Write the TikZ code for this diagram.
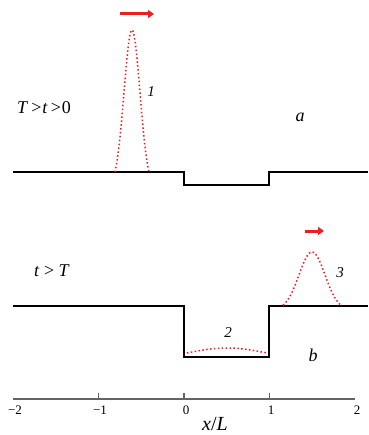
\documentclass[tikz,border=0pt]{standalone}
\usepackage{fontspec}
\setmainfont{Liberation Serif}
\usetikzlibrary{arrows.meta}
\definecolor{pulsered}{RGB}{235,30,35}
\definecolor{axisgray}{RGB}{100,100,100}
\tikzset{
  profile/.style={line width=2.6pt, line join=miter},
  pulse/.style={pulsered, line width=1.5pt, dash pattern=on 1.5pt off 2.4pt},
  motion/.style={pulsered, line width=3pt, -{Triangle[length=6pt,width=8pt]}},
  lbl/.style={inner sep=0pt, font=\fontsize{18}{20}\selectfont},
  num/.style={inner sep=0pt, font=\fontsize{15}{17}\selectfont\itshape},
  ticklbl/.style={inner sep=0pt, font=\fontsize{13}{15}\selectfont},
  axisline/.style={axisgray, line width=1.4pt}
}
\begin{document}
\begin{tikzpicture}[x=1pt,y=-1pt]
\useasboundingbox (0,0) rectangle (368,435);
% --- panel a ---
\coordinate (a0) at (13,172);
\coordinate (a1) at (184,172);
\coordinate (a2) at (184,185);
\coordinate (a3) at (269,185);
\coordinate (a4) at (269,172);
\coordinate (a5) at (368,172);
\draw[profile] (a0) -- (a1) -- (a2) -- (a3) -- (a4) -- (a5);
\draw[pulse] plot[domain=-17:17, samples=40, smooth] ({132+\x},{172-142*(exp(-(\x/8)^2/2)-0.105)/(1-0.105)});
\coordinate (ar1s) at (120,14);
\coordinate (ar1e) at (154,14);
\draw[motion] (ar1s) -- (ar1e);
\node[num] (n1) at (151,92) {1};
\node[lbl, anchor=west] (ta) at (17,108) {\textit{T}\,>\kern1pt\textit{t}\,>\kern1pt0};
\node[lbl] (la) at (300,117) {\textit{a}};
% --- panel b ---
\coordinate (b0) at (13,306);
\coordinate (b1) at (184,306);
\coordinate (b2) at (184,357);
\coordinate (b3) at (269,357);
\coordinate (b4) at (269,306);
\coordinate (b5) at (368,306);
\draw[profile] (b0) -- (b1) -- (b2) -- (b3) -- (b4) -- (b5);
\draw[pulse] plot[domain=-29:30, samples=50, smooth] ({312+\x},{306-54*(exp(-(\x/13)^2/2)-0.07)/(1-0.07)});
\draw[pulse] plot[domain=0:1, samples=30, smooth] ({187+80*\x},{353-5*sin(180*\x)});
\coordinate (ar2s) at (305,231);
\coordinate (ar2e) at (324,231);
\draw[motion] (ar2s) -- (ar2e);
\node[num] (n2) at (228,333) {2};
\node[num] (n3) at (340,273) {3};
\node[lbl] (tb) at (52,271) {\textit{t} > \textit{T}};
\node[lbl] (lb) at (313,355) {\textit{b}};
% --- axis ---
\coordinate (xl) at (13,399);
\coordinate (xr) at (355,399);
\draw[axisline] (xl) -- (xr);
\foreach \u in {-1,0,1} {
  \draw[axisline] ({184+85.5*\u},399) -- ({184+85.5*\u},393);
}
\node[ticklbl] (tm2) at (15,410) {−2};
\node[ticklbl] (tm1) at (100,410) {−1};
\node[ticklbl] (t0) at (186,410) {0};
\node[ticklbl] (t1) at (271,410) {1};
\node[ticklbl] (t2) at (357,410) {2};
\node[lbl, font=\fontsize{20}{22}\selectfont] (xlab) at (215,424) {\textit{x}/\textit{L}};
\end{tikzpicture}
\end{document}
